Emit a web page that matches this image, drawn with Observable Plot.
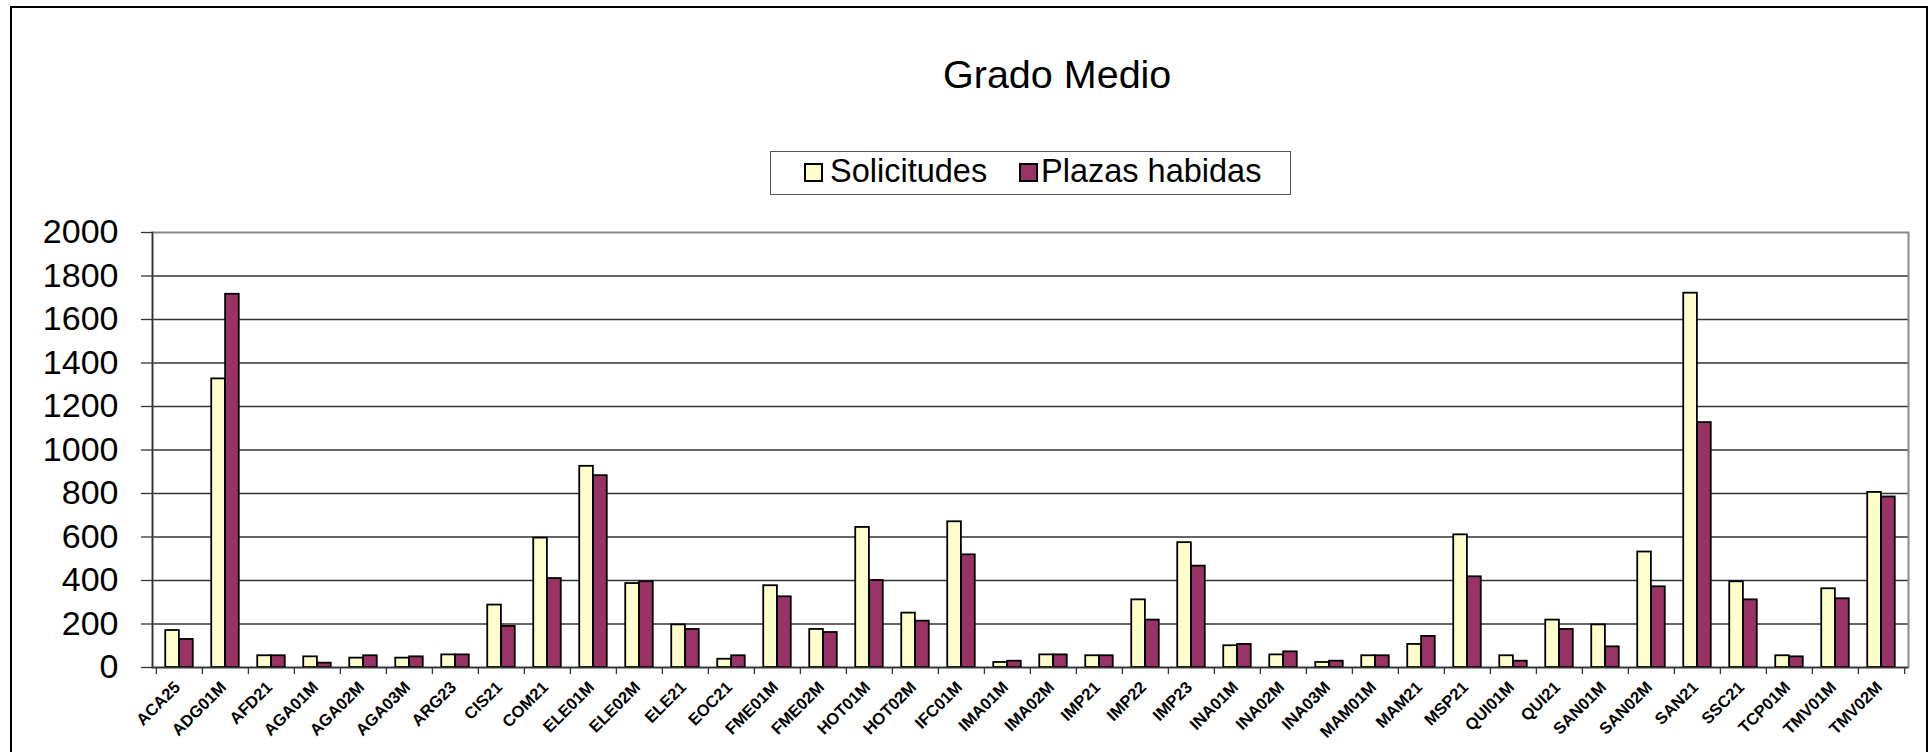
<!DOCTYPE html>
<html>
<head>
<meta charset="utf-8">
<script src="https://cdn.jsdelivr.net/npm/d3@7"></script>
<script src="https://cdn.jsdelivr.net/npm/@observablehq/plot@0.6"></script>
<style>
  html, body { margin: 0; padding: 0; background: #fff; }
  #wrap { position: relative; width: 1932px; height: 752px; overflow: hidden; font-family: "Liberation Sans", Arial, sans-serif; }
  #border { position: absolute; left: 10px; top: 6px; width: 1918px; height: 820px; border: 2px solid #000; box-sizing: border-box; }
  #chart { position: absolute; left: 0; top: 0; }
  #title { position: absolute; left: 943px; top: 54px; font-size: 39.5px; line-height: 40px; color: #000; white-space: nowrap; }
  #legend { position: absolute; left: 770px; top: 151px; width: 521px; height: 44px; border: 1.5px solid #555; box-sizing: border-box; background: #fff; }
  .sw { position: absolute; width: 19px; height: 19px; border: 2px solid #000; box-sizing: border-box; top: 11px; }
  .lt { position: absolute; top: 3px; font-size: 32.5px; line-height: 33px; white-space: nowrap; color: #000; }
</style>
</head>
<body>
<div id="wrap">
  <div id="chart"></div>
  <div id="border"></div>
  <div id="title"></div>
  <div id="legend"></div>
</div>
<script>
const chartTitle = "Grado Medio";
const seriesNames = ["Solicitudes", "Plazas habidas"];
const seriesColors = ["#FFFFCC", "#993366"];
const categories = ["ACA25","ADG01M","AFD21","AGA01M","AGA02M","AGA03M","ARG23","CIS21","COM21","ELE01M","ELE02M","ELE21","EOC21","FME01M","FME02M","HOT01M","HOT02M","IFC01M","IMA01M","IMA02M","IMP21","IMP22","IMP23","INA01M","INA02M","INA03M","MAM01M","MAM21","MSP21","QUI01M","QUI21","SAN01M","SAN02M","SAN21","SSC21","TCP01M","TMV01M","TMV02M"];
const solicitudes = [170,1327,54,49,43,43,58,287,595,925,386,196,38,376,175,644,250,670,23,58,54,311,574,100,58,23,54,106,610,54,218,196,531,1721,394,54,362,805];
const plazas = [129,1716,54,20,54,49,58,189,409,882,394,175,54,325,161,400,213,518,29,58,54,218,466,106,72,29,54,143,417,29,175,95,371,1126,311,49,316,784];
const yTicks = [0,200,400,600,800,1000,1200,1400,1600,1800,2000];

const W = 1932, H = 752, mL = 152, mR = 24, mT = 232, mB = 85;
const bw = (W - mL - mR) / categories.length;
const rows = categories.map((c, i) => ({cat: c, sol: solicitudes[i], plz: plazas[i]}));

const plot = Plot.plot({
  width: W, height: H,
  marginLeft: mL, marginRight: mR, marginTop: mT, marginBottom: mB,
  style: {fontFamily: '"Liberation Sans", Arial, sans-serif', background: "transparent", color: "#000"},
  x: {domain: categories, padding: 0, label: null},
  y: {domain: [0, 2000], label: null},
  marks: [
    Plot.gridY(yTicks.slice(1, -1), {stroke: "#333", strokeOpacity: 1, strokeWidth: 1.3}),
    Plot.frame({stroke: "#888", strokeWidth: 2}),
    Plot.barY(rows, {x: "cat", y: "sol", fill: seriesColors[0], stroke: "#000", strokeWidth: 1.8, insetLeft: bw * 0.2, insetRight: bw * 0.5}),
    Plot.barY(rows, {x: "cat", y: "plz", fill: seriesColors[1], stroke: "#000", strokeWidth: 1.8, insetLeft: bw * 0.5, insetRight: bw * 0.2}),
    Plot.ruleY([0], {stroke: "#333", strokeWidth: 1.5}),
    Plot.frame({anchor: "left", stroke: "#333", strokeWidth: 1.5}),
    Plot.ruleX(categories, {x: d => d, y1: 0, y2: 0, dx: -bw / 2, insetBottom: -7, stroke: "#333", strokeWidth: 1.3}),
    Plot.ruleX(categories.slice(-1), {x: d => d, y1: 0, y2: 0, dx: bw / 2, insetBottom: -7, stroke: "#333", strokeWidth: 1.3}),
    Plot.axisY(yTicks, {tickSize: 11, tickPadding: 23, fontSize: 34, stroke: "#333", strokeWidth: 1.3, tickFormat: d => String(d)}),
    Plot.axisX({tickSize: 0, tickPadding: 17, tickRotate: -45, fontSize: 16.5, fontWeight: "bold", dx: -2})
  ]
});
document.getElementById("chart").appendChild(plot);

document.getElementById("title").textContent = chartTitle;
const legend = document.getElementById("legend");
const swLeft = [33, 248], txtLeft = [59, 270];
seriesNames.forEach((n, i) => {
  const s = document.createElement("div");
  s.className = "sw"; s.style.left = swLeft[i] + "px"; s.style.background = seriesColors[i];
  legend.appendChild(s);
  const t = document.createElement("div");
  t.className = "lt"; t.style.left = txtLeft[i] + "px"; t.textContent = n;
  legend.appendChild(t);
});
</script>
</body>
</html>
